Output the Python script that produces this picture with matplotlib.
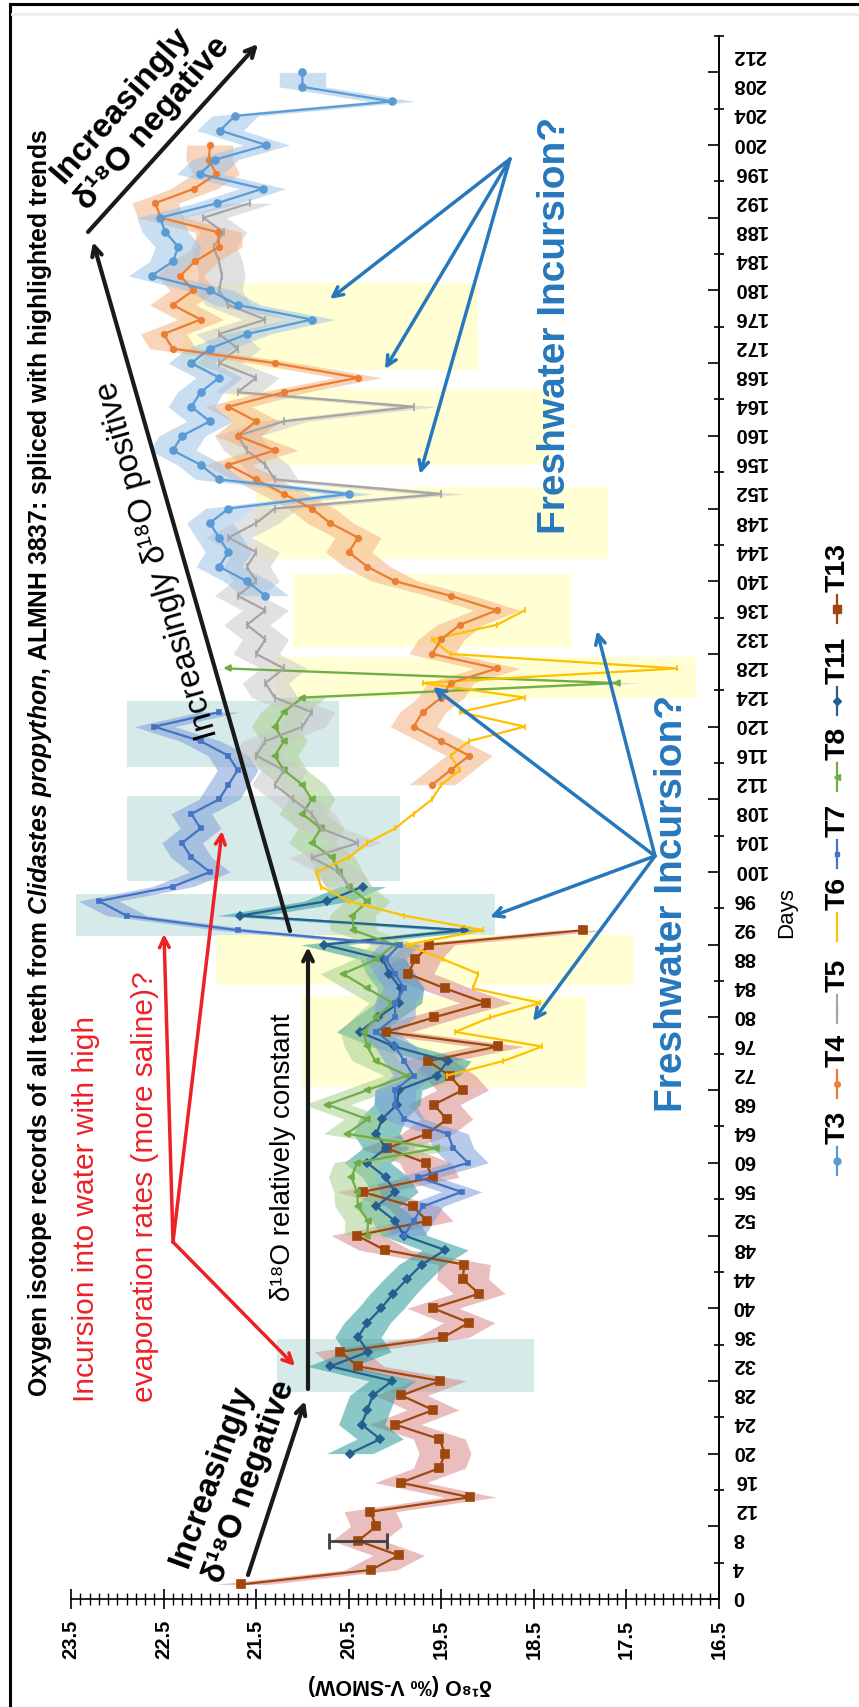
import numpy as np
import matplotlib
matplotlib.use("Agg")
import matplotlib.pyplot as plt
from matplotlib.lines import Line2D
from matplotlib.patches import Rectangle
from matplotlib.ticker import MultipleLocator, FixedLocator, NullLocator
from matplotlib.transforms import ScaledTranslation

plt.rcParams['font.family'] = ['Liberation Sans', 'DejaVu Sans']
plt.rcParams['mathtext.fontset'] = 'custom'
plt.rcParams['mathtext.rm'] = 'Liberation Sans:bold'
plt.rcParams['mathtext.it'] = 'Liberation Sans:bold:italic'

# ---- tooth records: day of growth and d18O value ----
t13_days = list(range(2, 93, 2))
t13_vals = [21.66, 20.26, 19.96, 20.40, 20.20, 20.27, 19.19, 19.94, 19.52, 19.46,
            19.52, 20.00, 19.59, 19.93, 19.51, 20.40, 20.59, 19.48, 19.20, 19.59,
            19.09, 19.27, 19.25, 20.11, 20.41, 19.65, 19.81, 20.35, 19.59, 19.67,
            20.09, 19.65, 19.44, 19.58, 19.27, 19.41, 19.64, 18.89, 20.10, 19.58,
            19.02, 19.46, 19.86, 19.78, 19.63, 17.97]

t11_days = list(range(20, 99, 2))
t11_vals = [20.49, 20.16, 20.36, 20.30, 20.24, 20.03, 20.70, 20.29, 20.40, 20.30,
            20.15, 20.02, 19.87, 19.71, 19.46, 19.90, 20.00, 20.20, 20.00, 20.10,
            20.30, 20.10, 20.20, 20.14, 19.98, 19.96, 19.55, 19.43, 20.01, 20.38,
            20.18, 19.96, 19.94, 20.06, 20.13, 20.77, 19.26, 21.67, 20.73, 20.35]

t7_days = list(range(50, 123, 2))
t7_vals = [19.90, 19.80, 19.70, 19.28, 19.75, 19.21, 19.37, 19.43, 19.90, 20.00,
           20.00, 19.80, 19.90, 20.00, 20.20, 20.00, 20.00, 19.90, 20.00, 20.10,
           19.95, 21.70, 22.90, 23.20, 22.40, 22.00, 22.20, 22.30, 22.10, 22.20,
           21.90, 21.80, 21.70, 21.80, 22.10, 22.60, 21.90]

t8_days = list(range(50, 129, 2))
t8_vals = [20.30, 20.29, 20.40, 20.41, 20.47, 20.41, 19.56, 20.52, 20.30, 20.73,
           20.30, 19.87, 20.21, 20.30, 20.34, 20.20, 20.03, 20.30, 20.56, 20.20,
           20.01, 20.45, 20.46, 20.30, 20.50, 20.60, 20.68, 20.90, 20.80, 21.00,
           20.90, 21.00, 21.20, 21.30, 21.20, 21.30, 21.20, 21.00, 17.60, 21.80]

t6_days = list(range(72, 137, 2))
t6_vals = [19.44, 18.83, 18.41, 19.35, 18.97, 18.43, 19.16, 19.10, 19.48, 19.87,
           19.05, 19.90, 20.50, 20.80, 20.85, 20.50, 20.30, 20.00, 19.80, 19.60,
           19.50, 19.30, 19.40, 19.20, 18.60, 19.30, 18.60, 19.70, 16.95, 19.40,
           19.60, 18.90, 18.60]

t5_days = list(range(98, 193, 2))
t5_vals = [20.50, 20.60, 20.90, 20.40, 20.80, 20.90, 21.10, 21.30, 21.20, 21.50,
           21.40, 21.00, 20.90, 21.30, 21.40, 21.20, 21.50, 21.40, 21.60, 21.40,
           21.70, 21.50, 21.60, 21.50, 21.80, 21.50, 21.30, 19.50, 21.30, 21.40,
           21.60, 21.70, 21.20, 19.80, 21.70, 21.50, 21.90, 21.70, 21.90, 21.40,
           21.80, 21.90, 21.87, 21.90, 21.96, 21.85, 22.07, 21.57]

t4_days = list(range(112, 201, 2))
t4_vals = [19.60, 19.40, 19.20, 19.50, 19.80, 19.70, 19.50, 19.40, 18.90, 19.60,
           19.50, 19.30, 18.90, 19.40, 20.00, 20.30, 20.50, 20.40, 20.70, 20.90,
           21.20, 21.50, 21.80, 21.30, 21.70, 21.50, 21.80, 21.20, 20.40, 21.30,
           22.40, 22.50, 22.10, 22.40, 22.18, 22.32, 22.16, 21.90, 21.91, 22.53,
           22.59, 22.17, 21.93, 22.01, 22.00]

t3_days = list(range(138, 211, 2))
t3_vals = [21.40, 21.60, 21.90, 21.80, 21.90, 22.00, 21.80, 20.50, 21.90, 22.10,
           22.40, 22.30, 22.00, 22.20, 22.10, 21.90, 22.20, 22.00, 21.60, 20.90,
           21.70, 22.00, 22.63, 22.40, 22.34, 22.48, 22.54, 21.92, 21.43, 22.11,
           21.94, 21.39, 21.89, 21.73, 20.03, 21.00, 21.00]

# single measured error bar on T13
err_day, err_val, err_half = 8, 20.40, 0.31

# highlighted intervals: (d18O from, d18O to, day from, day to)
teal_boxes = [(21.27, 18.50, 28.5, 35.8), (23.45, 18.92, 91.2, 97.0),
              (22.90, 19.95, 98.8, 110.5), (22.90, 20.60, 114.5, 123.5)]
yellow_boxes = [(21.00, 17.94, 70.4, 83.0), (21.93, 17.43, 84.4, 91.3),
                (21.30, 16.75, 124.0, 129.6), (21.10, 18.10, 131.0, 141.0),
                (21.50, 17.70, 143.0, 153.0), (21.80, 18.30, 156.0, 166.5),
                (22.30, 19.10, 169.0, 181.0)]

series = [
    # name, days, values, line colour, band colour, marker, size, band half-width
    ('T13', t13_days, t13_vals, '#9E480E', '#d9898a', 's', 6, 0.28),
    ('T11', t11_days, t11_vals, '#255E91', '#2b9a9a', 'D', 4, 0.25),
    ('T8', t8_days, t8_vals, '#70AD47', '#a9d18e', '<', 5, 0.25),
    ('T7', t7_days, t7_vals, '#4472C4', '#7f9fd8', 's', 3, 0.22),
    ('T6', t6_days, t6_vals, '#FFC000', None, '|', 5, 0.0),
    ('T5', t5_days, t5_vals, '#A5A5A5', '#c9c9c9', '|', 6, 0.25),
    ('T4', t4_days, t4_vals, '#ED7D31', '#f4b183', 'o', 4, 0.25),
    ('T3', t3_days, t3_vals, '#5B9BD5', '#9dc3e6', 'o', 5, 0.25),
]
legend_order = ['T3', 'T4', 'T5', 'T6', 'T7', 'T8', 'T11', 'T13']

W, H = 859, 1708
fig = plt.figure(figsize=(W / 100, H / 100), dpi=100)


def F(x, y):
    # pixel position (from top-left) to figure fraction
    return (x / W, 1 - y / H)


ax_l, ax_r, ax_t, ax_b = 71, 719, 37, 1600
ax = fig.add_axes([ax_l / W, 1 - ax_b / H, (ax_r - ax_l) / W, (ax_b - ax_t) / H])
ax.set_xlim(23.5, 16.5)
ax.set_ylim(0, 215)
ax.patch.set_alpha(0)
for s in ['top', 'left']:
    ax.spines[s].set_visible(False)

for x0, x1, d0, d1 in teal_boxes:
    ax.add_patch(Rectangle((x1, d0), x0 - x1, d1 - d0, facecolor='#cfe7e6',
                           edgecolor='none', alpha=0.85, zorder=0))
for x0, x1, d0, d1 in yellow_boxes:
    ax.add_patch(Rectangle((x1, d0), x0 - x1, d1 - d0, facecolor='#ffffcf',
                           edgecolor='none', alpha=0.9, zorder=0))

for name, days, vals, col, bcol, mk, ms, hw in series:
    d = np.array(days, dtype=float)
    v = np.array(vals, dtype=float)
    if bcol is not None:
        ax.fill_betweenx(d, v - hw, v + hw, color=bcol, alpha=0.55, lw=0, zorder=1)
    ax.plot(v, d, color=col, lw=1.6, marker=mk, ms=ms, mew=1.2, zorder=3)

ax.errorbar([err_val], [err_day], xerr=[err_half], fmt='none', ecolor='#404040',
            elinewidth=2, capsize=6, capthick=2, zorder=4)

# d18O axis along the bottom
ax.set_xticks(np.arange(16.5, 23.51, 1.0))
ax.set_xticklabels(['%.1f' % t for t in np.arange(16.5, 23.51, 1.0)])
ax.xaxis.set_minor_locator(MultipleLocator(0.1))
ax.tick_params(axis='x', which='major', direction='inout', length=14, width=1.2,
               labelrotation=90, labelsize=14.5, pad=7)
ax.tick_params(axis='x', which='minor', direction='inout', length=8, width=1.0)

# day axis on the right, labels every 4 days, tick marks every 5
ax.yaxis.tick_right()
ax.set_yticks(range(0, 213, 4))
ax.yaxis.set_minor_locator(NullLocator())
ax.tick_params(axis='y', which='major', length=0, pad=10, labelrotation=180,
               labelsize=14.5)
sec = ax.secondary_yaxis('right')
sec.set_yticks(range(0, 216, 10))
sec.set_yticklabels([])
sec.yaxis.set_minor_locator(FixedLocator(range(5, 216, 10)))
sec.tick_params(which='major', direction='in', length=8, width=1.2)
sec.tick_params(which='minor', direction='inout', length=7, width=1.2)
ax.spines['bottom'].set_linewidth(1.2)
ax.spines['right'].set_linewidth(1.2)
sec.spines['right'].set_linewidth(1.2)
lift = ScaledTranslation(0, 5 / 100, fig.dpi_scale_trans)
for lbl in ax.get_xticklabels() + ax.get_yticklabels():
    lbl.set_fontweight('bold')
for lbl in ax.get_yticklabels():
    lbl.set_transform(lbl.get_transform() + lift)

fig.text(*F(400, 1685), 'δ¹⁸O (‰ V-SMOW)', rotation=180, ha='center', va='center',
         fontsize=15.5, fontweight='bold')
fig.text(*F(787, 913), 'Days', rotation=90, ha='center', va='center', fontsize=16)

# frame
fig.add_artist(Line2D([10 / W, 10 / W], [0, 1 - 5 / H], color='black', lw=2.2))
fig.add_artist(Line2D([10 / W, 1], [1 - 5 / H, 1 - 5 / H], color='black', lw=2.2))
fig.add_artist(Line2D([12 / W, 1], [1 - 15 / H, 1 - 15 / H], color='#eeeeee', lw=2))

# legend, drawn along the right edge
legend_y = [1162, 1085, 1010, 928, 855, 778, 702, 610]
style = {s[0]: s for s in series}
for name, y in zip(legend_order, legend_y):
    _, _, _, col, _, mk, ms, _ = style[name]
    fig.add_artist(Line2D([837 / W] * 2, [1 - (y + 14) / H, 1 - (y - 14) / H],
                          color=col, lw=1.6))
    fig.add_artist(Line2D([837 / W], [1 - y / H], color=col, marker=mk, ms=ms))
    fig.text(*F(838, y - 18), name, rotation=90, rotation_mode='anchor',
             ha='left', va='center', fontsize=20.5, fontweight='bold')

# title and notes
fig.text(*F(40, 1397), 'Oxygen isotope records of all teeth from '
         r'$\mathit{Clidastes\ propython}$, ALMNH 3837: spliced with highlighted trends',
         rotation=90, rotation_mode='anchor', ha='left', va='center',
         fontsize=17.8, fontweight='bold')
red = '#ec2227'
fig.text(*F(86, 1402), 'Incursion into water with high', rotation=90,
         rotation_mode='anchor', ha='left', va='center', fontsize=21.5, color=red)
fig.text(*F(145, 1402), 'evaporation rates (more saline)?', rotation=90,
         rotation_mode='anchor', ha='left', va='center', fontsize=21.5, color=red)

vertex = F(173, 1243)
for tip in [F(295, 1367), F(164, 935), F(222, 832)]:
    ax.annotate('', xy=tip, xycoords='figure fraction', xytext=vertex,
                textcoords='figure fraction',
                arrowprops=dict(arrowstyle='->,head_length=0.7,head_width=0.35',
                                color=red, lw=2.5, shrinkA=0, shrinkB=0))

black = dict(arrowstyle='->,head_length=0.7,head_width=0.35', color='#1a1a1a',
             lw=3, shrinkA=0, shrinkB=0)
ax.annotate('', xy=F(305, 1402), xycoords='figure fraction', xytext=F(248, 1576),
            textcoords='figure fraction', arrowprops=black)
ax.annotate('', xy=F(308, 948), xycoords='figure fraction', xytext=F(308, 1390),
            textcoords='figure fraction', arrowprops=black)
ax.annotate('', xy=F(93, 243), xycoords='figure fraction', xytext=F(290, 932),
            textcoords='figure fraction', arrowprops=black)
ax.annotate('', xy=F(258, 45), xycoords='figure fraction', xytext=F(88, 233),
            textcoords='figure fraction', arrowprops=black)

fig.text(*F(212, 1476), 'Increasingly', rotation=70, rotation_mode='anchor',
         ha='center', va='center', fontsize=23.5, fontweight='bold')
fig.text(*F(250, 1482), 'δ¹⁸O negative', rotation=70, rotation_mode='anchor',
         ha='center', va='center', fontsize=23.5, fontweight='bold')
fig.text(*F(283, 1157), 'δ¹⁸O relatively constant', rotation=90, rotation_mode='anchor',
         ha='center', va='center', fontsize=20)
fig.text(*F(121, 105), 'Increasingly', rotation=49, rotation_mode='anchor',
         ha='center', va='center', fontsize=24, fontweight='bold')
fig.text(*F(153, 124), 'δ¹⁸O negative', rotation=49, rotation_mode='anchor',
         ha='center', va='center', fontsize=24, fontweight='bold')
fig.text(*F(158, 560), 'Increasingly δ¹⁸O positive', rotation=106,
         rotation_mode='anchor', ha='center', va='center', fontsize=23.5)

blue = '#2677bc'
fig.text(*F(672, 903), 'Freshwater Incursion?', rotation=90, rotation_mode='anchor',
         ha='center', va='center', fontsize=28, fontweight='bold', color=blue)
fig.text(*F(555, 325), 'Freshwater Incursion?', rotation=90, rotation_mode='anchor',
         ha='center', va='center', fontsize=28, fontweight='bold', color=blue)

blue_arrow = dict(arrowstyle='->,head_length=0.7,head_width=0.35', color=blue,
                  lw=2.5, shrinkA=0, shrinkB=0)
low_vertex = F(655, 857)
for tip in [F(490, 918), F(533, 1022), F(433, 688), F(597, 632)]:
    ax.annotate('', xy=tip, xycoords='figure fraction', xytext=low_vertex,
                textcoords='figure fraction', arrowprops=blue_arrow)
up_vertex = F(510, 160)
for tip in [F(330, 300), F(385, 370), F(420, 475)]:
    ax.annotate('', xy=tip, xycoords='figure fraction', xytext=up_vertex,
                textcoords='figure fraction', arrowprops=blue_arrow)

fig.savefig('out.png', dpi=100)
